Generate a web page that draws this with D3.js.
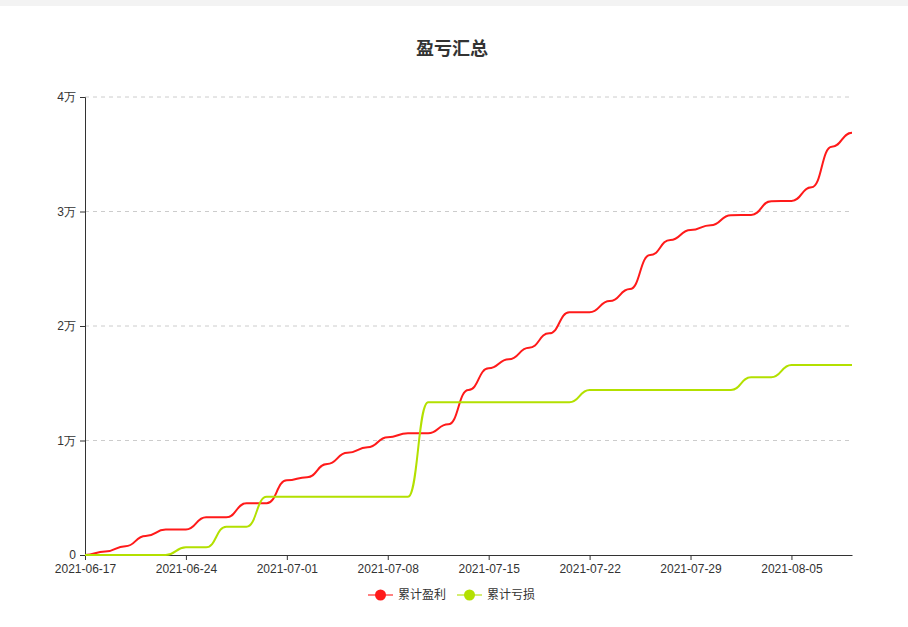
<!DOCTYPE html>
<html>
<head>
<meta charset="utf-8">
<script src="https://cdn.jsdelivr.net/npm/d3@7/dist/d3.min.js"></script>
<style>
  body { margin: 0; background: #fff; }
  svg { display: block; font-family: "Microsoft YaHei", "Noto Sans CJK SC", sans-serif; }
</style>
</head>
<body>
<svg id="chart"></svg>
<script>
// trading days only (category axis)
var dates = ['2021-06-17','2021-06-18','2021-06-21','2021-06-22','2021-06-23','2021-06-24','2021-06-25',
  '2021-06-28','2021-06-29','2021-06-30','2021-07-01','2021-07-02','2021-07-05','2021-07-06','2021-07-07',
  '2021-07-08','2021-07-09','2021-07-12','2021-07-13','2021-07-14','2021-07-15','2021-07-16','2021-07-19',
  '2021-07-20','2021-07-21','2021-07-22','2021-07-23','2021-07-26','2021-07-27','2021-07-28','2021-07-29',
  '2021-07-30','2021-08-02','2021-08-03','2021-08-04','2021-08-05','2021-08-06','2021-08-09','2021-08-10'];

var profit = [0, 300, 760, 1660, 2220, 2220, 3290, 3290, 4520, 4520, 6520, 6790, 7950, 8930, 9400,
  10280, 10630, 10630, 11410, 14410, 16300, 17090, 18100, 19360, 21200, 21200, 22180, 23230, 26200,
  27510, 28380, 28800, 29680, 29700, 30900, 30920, 32110, 35660, 36880];

var loss = [0, 0, 0, 0, 0, 670, 670, 2470, 2470, 5080, 5080, 5080, 5080, 5080, 5080,
  5080, 5080, 13340, 13340, 13340, 13340, 13340, 13340, 13340, 13340, 14410, 14410, 14410, 14410,
  14410, 14410, 14410, 14410, 15520, 15520, 16590, 16590, 16590, 16590];

var seriesNames = ['累计盈利', '累计亏损'];
var colors = ['#ff1a1a', '#b3e000'];
var yTicks = [0, 10000, 20000, 30000, 40000];

var W = 908, H = 627;
var margin = {left: 85, right: 56, top: 97, bottom: 72};

var svg = d3.select('#chart').attr('width', W).attr('height', H);

svg.append('rect').attr('width', W).attr('height', 6).attr('fill', '#f3f3f3');

var x = d3.scalePoint().domain(dates).range([margin.left, W - margin.right]);
var y = d3.scaleLinear().domain([0, 40000]).range([H - margin.bottom, margin.top]);

// title
svg.append('text')
  .attr('x', 452).attr('y', 55)
  .attr('text-anchor', 'middle')
  .style('font-size', '18px').style('font-weight', 'bold').style('fill', '#333')
  .text('盈亏汇总');

// grid
svg.append('g').selectAll('line')
  .data(yTicks.slice(1))
  .enter().append('line')
  .attr('x1', margin.left).attr('x2', W - margin.right)
  .attr('y1', function(d) { return y(d); }).attr('y2', function(d) { return y(d); })
  .attr('stroke', '#ccc').attr('stroke-dasharray', '4,4');

// y axis
var yAxis = svg.append('g')
  .attr('transform', 'translate(' + margin.left + ',0)')
  .call(d3.axisLeft(y).tickValues(yTicks).tickSize(5).tickPadding(4)
    .tickFormat(function(d) { return d === 0 ? '0' : (d / 10000) + '万'; }));
yAxis.select('.domain').attr('stroke', '#333');
yAxis.selectAll('.tick line').attr('stroke', '#333');
yAxis.selectAll('text').style('font-size', '12px').style('fill', '#333').style('font-family', null);

// x axis
var xAxis = svg.append('g')
  .attr('transform', 'translate(0,' + (H - margin.bottom) + ')')
  .call(d3.axisBottom(x).tickValues(dates.filter(function(d, i) { return i % 5 === 0; }))
    .tickSize(5).tickSizeOuter(0).tickPadding(4));
xAxis.select('.domain').attr('stroke', '#333');
xAxis.selectAll('.tick line').attr('stroke', '#333');
xAxis.selectAll('text').style('font-size', '12px').style('fill', '#333').style('font-family', null);

// lines
var line = d3.line()
  .x(function(d, i) { return x(dates[i]); })
  .y(function(d) { return y(d); })
  .curve(d3.curveBumpX);

[profit, loss].forEach(function(s, k) {
  svg.append('path')
    .datum(s)
    .attr('d', line)
    .attr('fill', 'none')
    .attr('stroke', colors[k])
    .attr('stroke-width', 2);
});

// legend
var legend = svg.append('g').attr('transform', 'translate(368,595)');
var items = legend.selectAll('g')
  .data(seriesNames)
  .enter().append('g')
  .attr('transform', function(d, i) { return 'translate(' + (i * 89) + ',0)'; });
items.append('line')
  .attr('x1', 0).attr('x2', 25)
  .attr('stroke', function(d, i) { return colors[i]; })
  .attr('stroke-opacity', 0.55).attr('stroke-width', 2);
items.append('circle')
  .attr('cx', 12.5).attr('r', 5.5)
  .attr('fill', function(d, i) { return colors[i]; });
items.append('text')
  .attr('x', 30).attr('y', 4)
  .style('font-size', '12px').style('fill', '#333')
  .text(function(d) { return d; });
</script>
</body>
</html>
